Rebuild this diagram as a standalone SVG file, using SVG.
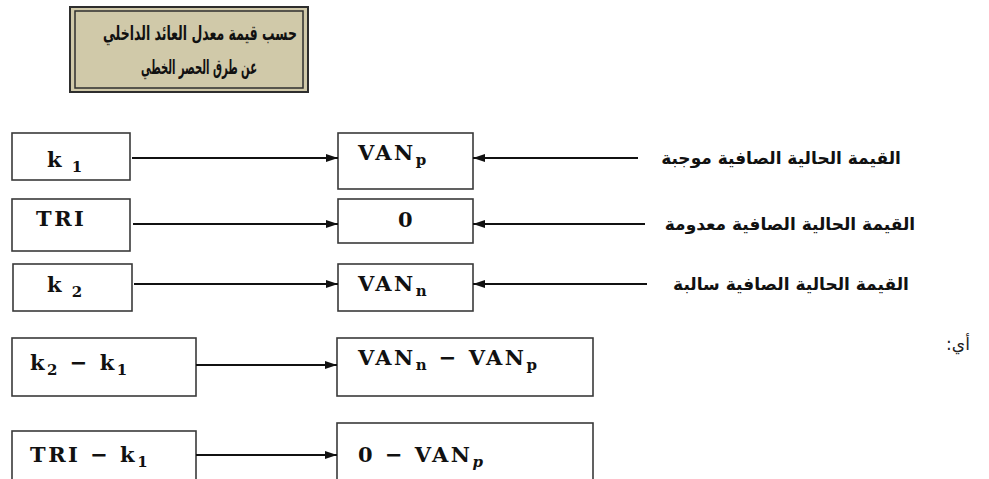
<svg xmlns="http://www.w3.org/2000/svg" width="989" height="479" viewBox="0 0 989 479">
  <style>
    .box { fill: #ffffff; stroke: #3a3a3a; stroke-width: 1.6; }
    .math { font-family: "DejaVu Serif", "Liberation Serif", serif; font-weight: bold; font-size: 21px; fill: #111; letter-spacing: 2.5px; }
    .sub { font-size: 15px; }
    .ar { font-family: "DejaVu Sans", sans-serif; font-weight: bold; font-size: 17px; fill: #111; }
    .title-ar { font-size: 20px; }
    .arreg { font-family: "DejaVu Sans", sans-serif; font-size: 17px; fill: #222; }
    .conn { stroke: #111; stroke-width: 2; fill: none; }
  </style>
  <defs>
    <marker id="head" viewBox="0 0 12 8" refX="12" refY="4" markerWidth="12" markerHeight="8" markerUnits="userSpaceOnUse" orient="auto">
      <path d="M0,0 L12,4 L0,8 Z" fill="#111"/>
    </marker>
  </defs>

  <rect width="989" height="479" fill="#ffffff"/>

  <!-- title plate with double border -->
  <g id="title">
    <rect x="70" y="7" width="238" height="85" fill="#d0c9a9" stroke="#2e2e2e" stroke-width="2"/>
    <rect x="75" y="11" width="228" height="77" fill="none" stroke="#2e2e2e" stroke-width="1.5"/>
    <text class="ar title-ar" x="200" y="40" direction="rtl" text-anchor="middle" textLength="194" lengthAdjust="spacingAndGlyphs">حسب قيمة معدل العائد الداخلي</text>
    <text class="ar title-ar" x="199" y="74" direction="rtl" text-anchor="middle" textLength="116" lengthAdjust="spacingAndGlyphs">عن طرق الحصر الخطي</text>
  </g>

  <!-- left column -->
  <g id="k1">
    <rect class="box" x="12" y="133" width="118" height="47"/>
    <text class="math" x="47" y="167">k<tspan class="sub" dy="5"> 1</tspan></text>
  </g>
  <g id="tri">
    <rect class="box" x="12" y="199" width="118" height="52"/>
    <text class="math" x="36" y="226">TRI</text>
  </g>
  <g id="k2">
    <rect class="box" x="13" y="264" width="119" height="47"/>
    <text class="math" x="47" y="292">k<tspan class="sub" dy="5"> 2</tspan></text>
  </g>
  <g id="k2-k1">
    <rect class="box" x="12" y="338" width="184" height="58"/>
    <text class="math" x="30" y="370">k<tspan class="sub" dy="5">2</tspan><tspan dy="-5"> − k</tspan><tspan class="sub" dy="5">1</tspan></text>
  </g>
  <g id="tri-k1">
    <rect class="box" x="12" y="431" width="184" height="60"/>
    <text class="math" x="30" y="462">TRI − k<tspan class="sub" dy="5">1</tspan></text>
  </g>

  <!-- right column -->
  <g id="vanp">
    <rect class="box" x="338" y="133" width="135" height="56"/>
    <text class="math" x="358" y="160">VAN<tspan class="sub" dy="5">p</tspan></text>
  </g>
  <g id="zero">
    <rect class="box" x="338" y="199" width="135" height="44"/>
    <text class="math" x="398" y="227">0</text>
  </g>
  <g id="vann">
    <rect class="box" x="338" y="264" width="135" height="47"/>
    <text class="math" x="358" y="291">VAN<tspan class="sub" dy="5">n</tspan></text>
  </g>
  <g id="vann-vanp">
    <rect class="box" x="337" y="338" width="256" height="58"/>
    <text class="math" x="358" y="365">VAN<tspan class="sub" dy="5">n</tspan><tspan dy="-5"> − VAN</tspan><tspan class="sub" dy="5">p</tspan></text>
  </g>
  <g id="zero-vanp">
    <rect class="box" x="337" y="423" width="256" height="68"/>
    <text class="math" x="358" y="462">0 − VAN<tspan class="sub" dy="5" font-style="italic">p</tspan></text>
  </g>

  <!-- side labels -->
  <g id="label-pos">
    <text class="ar" x="781" y="164" direction="rtl" text-anchor="middle">القيمة الحالية الصافية موجبة</text>
  </g>
  <g id="label-zero">
    <text class="ar" x="790" y="230" direction="rtl" text-anchor="middle">القيمة الحالية الصافية معدومة</text>
  </g>
  <g id="label-neg">
    <text class="ar" x="791" y="290" direction="rtl" text-anchor="middle">القيمة الحالية الصافية سالبة</text>
  </g>
  <g id="label-ie">
    <text class="arreg" x="958" y="350" direction="rtl" text-anchor="middle">أي:</text>
  </g>

  <!-- connectors -->
  <g id="connectors">
    <line class="conn" x1="132" y1="158" x2="338" y2="158" marker-end="url(#head)"/>
    <line class="conn" x1="133" y1="224" x2="338" y2="224" marker-end="url(#head)"/>
    <line class="conn" x1="134" y1="284" x2="338" y2="284" marker-end="url(#head)"/>
    <line class="conn" x1="196" y1="365" x2="337" y2="365" marker-end="url(#head)"/>
    <line class="conn" x1="196" y1="455" x2="337" y2="455" marker-end="url(#head)"/>
    <line class="conn" x1="638" y1="158" x2="473" y2="158" marker-end="url(#head)"/>
    <line class="conn" x1="645" y1="224" x2="473" y2="224" marker-end="url(#head)"/>
    <line class="conn" x1="647" y1="284" x2="473" y2="284" marker-end="url(#head)"/>
  </g>
</svg>
